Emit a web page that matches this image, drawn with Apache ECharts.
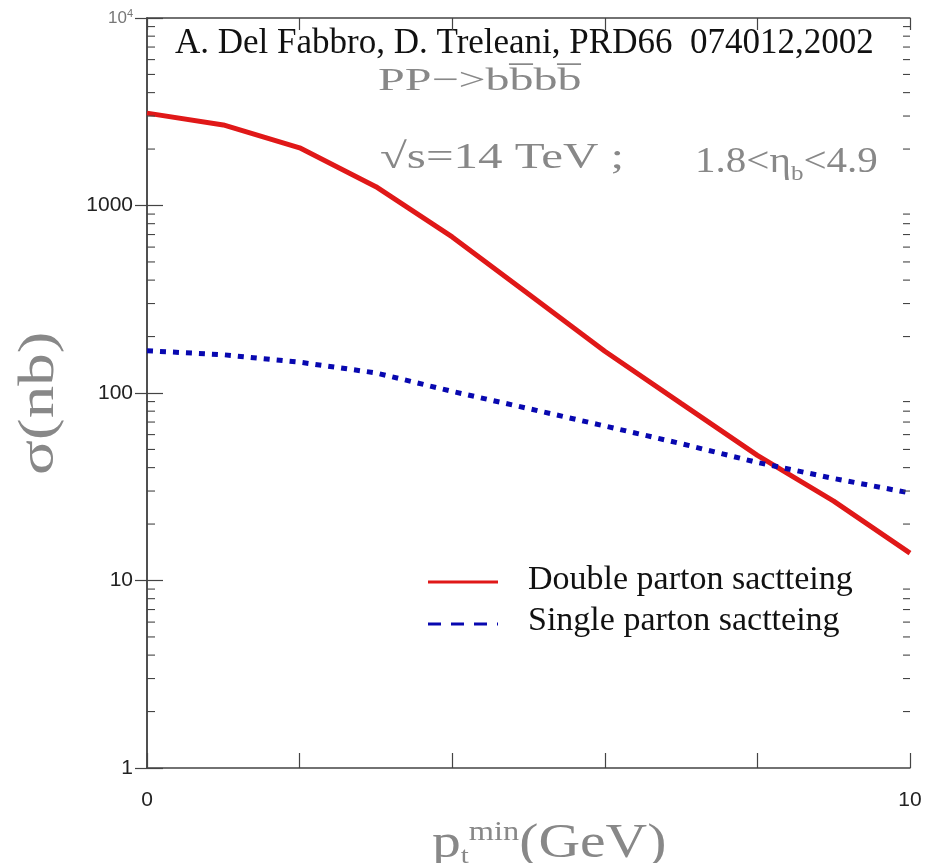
<!DOCTYPE html>
<html>
<head>
<meta charset="utf-8">
<style>
    html, body { margin: 0; padding: 0; background: #fff; }
    #chart { width: 925px; height: 863px; }
</style>
</head>
<body>
<div id="chart"></div>
<script src="https://cdn.jsdelivr.net/npm/echarts@6/dist/echarts.min.js"></script>
<script>
    // values (pt min in GeV, sigma in nb)
    var ptMin = [0, 1, 2, 3, 4, 5, 6, 7, 8, 9, 10];
    var doubleParton = [3110, 2690, 2030, 1260, 680, 337, 167, 88, 46.5, 26.5, 14.0];
    var singleParton = [168, 160, 146, 128, 102, 82.6, 66.7, 53.7, 42.6, 35.0, 29.3];
    var yTickLabels = {1: '1', 10: '10', 100: '100', 1000: '1000', 10000: '{b|10}{s|4}'};
    var minorTicks = [2, 3, 4, 5, 6, 7, 8, 9, 20, 30, 40, 50, 60, 70, 80, 90,
        200, 300, 400, 500, 600, 700, 800, 900, 2000, 3000, 4000, 5000, 6000, 7000, 8000, 9000];

    var serif = '"Liberation Serif", "DejaVu Serif", serif';
    var sans = '"Liberation Sans", Arial, sans-serif';
    var frame = '#444';
    var grey = '#888';

    var myChart = echarts.init(document.getElementById('chart'));

    function pairs(ys) {
        return ptMin.map(function (x, i) { return [x, ys[i]]; });
    }

    var option = {
        backgroundColor: '#fff',
        animation: false,
        grid: {left: 147, top: 18, width: 763, height: 750, containLabel: false, outerBoundsMode: 'none'},
        xAxis: [
            {
                type: 'value', min: 0, max: 10, interval: 2,
                axisLine: {show: true, lineStyle: {color: frame, width: 1.5}},
                axisTick: {show: true, inside: true, length: 15, lineStyle: {color: frame, width: 1.2}},
                splitLine: {show: false},
                axisLabel: {
                    margin: 22, color: '#222', fontFamily: sans, fontSize: 21,
                    formatter: function (v) { return (v === 0 || v === 10) ? String(v) : ''; }
                }
            },
            {
                type: 'value', min: 0, max: 10, interval: 2, position: 'top',
                axisLine: {show: true, lineStyle: {color: frame, width: 1.5}},
                axisTick: {show: true, inside: true, length: 12, lineStyle: {color: frame, width: 1.2}},
                splitLine: {show: false},
                axisLabel: {show: false}
            }
        ],
        yAxis: [
            {
                type: 'log', logBase: 10, min: 1, max: 10000,
                axisLine: {show: true, lineStyle: {color: frame, width: 1.5}},
                axisTick: {show: true, inside: true, length: 16, lineStyle: {color: frame, width: 1.2}},
                splitLine: {show: false},
                minorTick: {show: false},
                axisLabel: {
                    margin: 14, color: '#222', fontFamily: sans, fontSize: 21,
                    formatter: function (v) { return yTickLabels[Math.round(v)] || ''; },
                    rich: {
                        b: {fontFamily: sans, fontSize: 17, color: '#777'},
                        s: {fontFamily: sans, fontSize: 11, color: '#777', padding: [0, 0, 8, 0]}
                    }
                }
            },
            {
                type: 'log', logBase: 10, min: 1, max: 10000, position: 'right',
                axisLine: {show: true, lineStyle: {color: frame, width: 1.5}},
                axisTick: {show: true, inside: true, length: 12, lineStyle: {color: frame, width: 1.2}},
                splitLine: {show: false},
                axisLabel: {show: false}
            }
        ],
        series: [
            {
                name: 'Double parton sactteing', type: 'line',
                data: pairs(doubleParton),
                showSymbol: false, symbol: 'none', clip: true,
                lineStyle: {color: '#e01818', width: 5}
            },
            {
                name: 'Single parton sactteing', type: 'line',
                data: pairs(singleParton),
                showSymbol: false, symbol: 'none', clip: true,
                lineStyle: {color: '#0808b0', width: 5, type: [6, 7], cap: 'butt'}
            },
            {
                // log minor ticks on the left and right frame
                type: 'custom', silent: true, z: 5,
                data: minorTicks.map(function (v) { return [0, v]; }),
                renderItem: function (params, api) {
                    var v = api.value(1);
                    var l = api.coord([0, v]);
                    var r = api.coord([10, v]);
                    var st = {stroke: frame, lineWidth: 1.1};
                    return {
                        type: 'group',
                        children: [
                            {type: 'line', shape: {x1: l[0], y1: l[1], x2: l[0] + 8, y2: l[1]}, style: st},
                            {type: 'line', shape: {x1: r[0], y1: r[1], x2: r[0] - 7, y2: r[1]}, style: st}
                        ]
                    };
                }
            }
        ],
        graphic: [
            {
                type: 'text', x: 175, y: 26,
                style: {text: 'A. Del Fabbro, D. Treleani, PRD66  074012,2002', fontFamily: serif, fontSize: 35, fill: '#111'}
            },
            {
                type: 'text', x: 378, y: 66, scaleX: 1.5,
                style: {text: 'PP\u2212>bb\u0305bb\u0305', fontFamily: serif, fontSize: 32, fill: grey}
            },
            {
                type: 'text', x: 380, y: 141, scaleX: 1.36,
                style: {text: '\u221As=14 TeV ;', fontFamily: serif, fontSize: 36, fill: grey}
            },
            {
                type: 'text', x: 695, y: 141, scaleX: 1.14,
                style: {
                    text: '{a|1.8<\u03B7}{s|b}{a|<4.9}',
                    rich: {
                        a: {fontFamily: serif, fontSize: 36, fill: grey, lineHeight: 44},
                        s: {fontFamily: serif, fontSize: 22, fill: grey, lineHeight: 44, padding: [22, 0, 0, 0]}
                    }
                }
            },
            {
                // y axis title
                type: 'text', x: 15, y: 475, rotation: Math.PI / 2, scaleX: 1.3,
                style: {text: '\u03C3(nb)', fontFamily: serif, fontSize: 50, fill: grey}
            },
            {
                // x axis title
                type: 'text', x: 432, y: 818, scaleX: 1.2,
                style: {
                    text: '{p|p}{sub|t}{sup|min}{p|(GeV)}',
                    rich: {
                        p: {fontFamily: serif, fontSize: 48, fill: grey, lineHeight: 52},
                        sub: {fontFamily: serif, fontSize: 24, fill: grey, lineHeight: 52, padding: [26, 0, 0, 0]},
                        sup: {fontFamily: serif, fontSize: 27, fill: grey, lineHeight: 52, padding: [0, 0, 22, 0]}
                    }
                }
            },
            {
                type: 'line', shape: {x1: 428, y1: 582, x2: 498, y2: 582},
                style: {stroke: '#e01818', lineWidth: 3}
            },
            {
                type: 'line', shape: {x1: 428, y1: 624, x2: 498, y2: 624},
                style: {stroke: '#0808b0', lineWidth: 3, lineDash: [13, 10]}
            },
            {
                type: 'text', x: 528, y: 563,
                style: {text: 'Double parton sactteing', fontFamily: serif, fontSize: 34, fill: '#111'}
            },
            {
                type: 'text', x: 528, y: 604,
                style: {text: 'Single parton sactteing', fontFamily: serif, fontSize: 34, fill: '#111'}
            }
        ]
    };
    myChart.setOption(option);
</script>
</body>
</html>
